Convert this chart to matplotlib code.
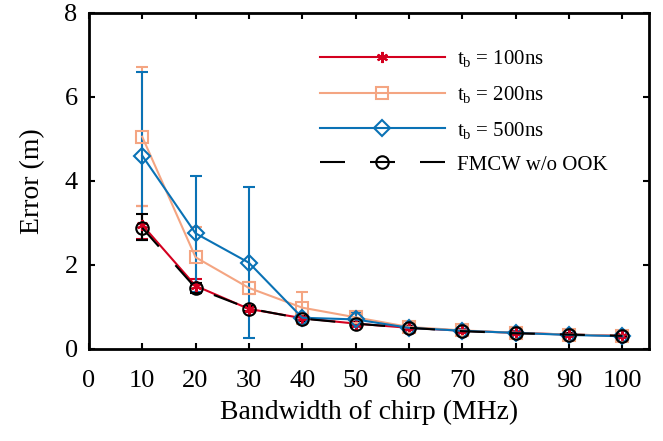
import numpy as np
from matplotlib import pyplot as plt

plt.rcParams['font.family'] = 'Liberation Serif'
plt.rcParams['mathtext.fontset'] = 'custom'
plt.rcParams['mathtext.rm'] = 'Liberation Serif'

# bandwidth of chirp (MHz)
bw = [10, 20, 30, 40, 50, 60, 70, 80, 90, 100]

# t_b = 100ns
err_100 = [2.95, 1.50, 0.95, 0.73, 0.60, 0.50, 0.43, 0.38, 0.34, 0.31]
lo_100 = [0.33, 0.15, 0.08, 0.06, 0.05, 0.04, 0.04, 0.03, 0.03, 0.03]
hi_100 = [0.44, 0.17, 0.08, 0.06, 0.05, 0.04, 0.04, 0.03, 0.03, 0.03]

# t_b = 200ns
err_200 = [5.05, 2.18, 1.45, 0.98, 0.75, 0.52, 0.44, 0.38, 0.34, 0.31]
lo_200 = [1.65, 0.73, 0.15, 0.38, 0.08, 0.05, 0.04, 0.03, 0.03, 0.03]
hi_200 = [1.67, 0.73, 0.15, 0.38, 0.08, 0.05, 0.04, 0.03, 0.03, 0.03]

# t_b = 500ns
err_500 = [4.60, 2.75, 2.05, 0.74, 0.70, 0.50, 0.43, 0.38, 0.33, 0.30]
lo_500 = [2.00, 1.40, 1.80, 0.06, 0.18, 0.05, 0.04, 0.04, 0.03, 0.03]
hi_500 = [2.00, 1.37, 1.81, 0.06, 0.18, 0.05, 0.04, 0.04, 0.03, 0.03]

# FMCW w/o OOK
err_fmcw = [2.88, 1.45, 0.96, 0.72, 0.60, 0.50, 0.42, 0.37, 0.34, 0.31]
lo_fmcw = [0.30, 0.12, 0.07, 0.05, 0.04, 0.04, 0.03, 0.03, 0.03, 0.03]
hi_fmcw = [0.33, 0.12, 0.07, 0.05, 0.04, 0.04, 0.03, 0.03, 0.03, 0.03]

fig = plt.figure(figsize=(6.63, 4.41), dpi=100)
ax = fig.add_axes([0.134, 0.209, 0.845, 0.762])

ax.errorbar(bw, err_100, yerr=[lo_100, hi_100], color='#d4001f', marker=(6, 2, 0),
            ms=8, mew=1.5, lw=1.5, capsize=4, elinewidth=1.5, capthick=1.5,
            label=r'$\mathrm{t_b}$ = 100ns')
ax.errorbar(bw, err_200, yerr=[lo_200, hi_200], color='#f4a582', marker='s',
            ms=9, mfc='none', mew=1.5, lw=1.5, capsize=4, elinewidth=1.5,
            capthick=1.5, label=r'$\mathrm{t_b}$ = 200ns')
ax.errorbar(bw, err_500, yerr=[lo_500, hi_500], color='#0a72b5', marker='D',
            ms=8, mfc='none', mew=1.5, lw=1.5, capsize=4, elinewidth=1.5,
            capthick=1.5, label=r'$\mathrm{t_b}$ = 500ns')
ax.errorbar(bw, err_fmcw, yerr=[lo_fmcw, hi_fmcw], color='black', marker='o',
            ms=9, mfc='none', mew=1.5, lw=1.5, ls=(0, (12, 12)), capsize=4,
            elinewidth=1.5, capthick=1.5, label='FMCW w/o OOK')

ax.set_xlim(0, 105)
ax.set_ylim(0, 8)
ax.set_xticks(range(0, 101, 10))
ax.set_yticks(range(0, 9, 2))
ax.tick_params(direction='in', top=True, right=True, length=4, width=1.5,
               labelsize=19)
ax.tick_params(axis='x', pad=15)
ax.tick_params(axis='y', pad=8)
for s in ax.spines.values():
    s.set_linewidth(2)

ax.set_xlabel('Bandwidth of chirp (MHz)', fontsize=20, labelpad=6)
ax.set_ylabel('Error (m)', fontsize=20, labelpad=14)

handles, labels = ax.get_legend_handles_labels()
handles = [h[0] for h in handles]
ax.legend(handles, labels, loc='upper right', bbox_to_anchor=(0.96, 0.95),
          frameon=False, fontsize=15, handlelength=6.0, labelspacing=0.7,
          handletextpad=0.6)

fig.savefig('out.png', dpi=100)
